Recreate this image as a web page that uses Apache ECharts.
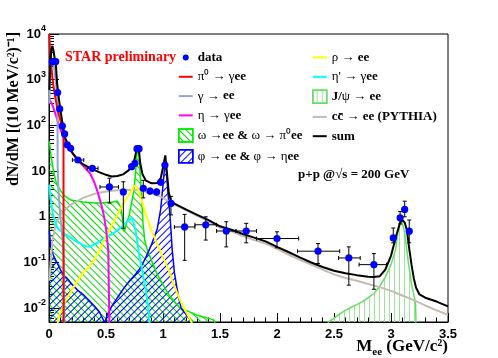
<!DOCTYPE html>
<html>
<head>
<meta charset="utf-8">
<script src="https://cdn.jsdelivr.net/npm/echarts@6/dist/echarts.min.js"></script>
<style>
html, body { margin: 0; padding: 0; background: #fff; }
#main { width: 498px; height: 358px; }
</style>
</head>
<body>
<div id="main"></div>
<script>
// measured points: mass, yield, mass range, yield range
var ptMass   = [0.029, 0.059, 0.076, 0.094, 0.117, 0.137, 0.16, 0.19, 0.254, 0.38, 0.53, 0.652, 0.725, 0.754, 0.772, 0.79, 0.827, 0.886, 0.944, 0.98, 1.017, 1.07, 1.19, 1.375, 1.555, 1.73, 2.0, 2.36, 2.63, 2.85, 3.02, 3.08, 3.12, 3.16];
var ptYield  = [2450, 2500, 525, 230, 97, 65, 37.6, 31.5, 17.5, 11.5, 4.5, 3.5, 12.5, 14.8, 31, 31, 4.2, 3.66, 3.5, 5.7, 13.6, 1.96, 0.60, 0.67, 0.49, 0.49, 0.335, 0.177, 0.126, 0.090, 0.346, 0.95, 1.45, 0.485];
var ptMassLo = [0.025, 0.055, 0.072, 0.09, 0.113, 0.133, 0.155, 0.18, 0.205, 0.335, 0.447, 0.63, 0.715, 0.745, 0.765, 0.783, 0.807, 0.862, 0.92, 0.97, 1.01, 1.05, 1.1, 1.28, 1.47, 1.64, 1.82, 2.18, 2.54, 2.72, 3.01, 3.07, 3.11, 3.15];
var ptMassHi = [0.033, 0.063, 0.08, 0.098, 0.121, 0.141, 0.165, 0.2, 0.305, 0.43, 0.61, 0.675, 0.735, 0.763, 0.779, 0.797, 0.847, 0.91, 0.968, 0.99, 1.024, 1.09, 1.28, 1.47, 1.64, 1.82, 2.19, 2.55, 2.73, 2.96, 3.03, 3.09, 3.13, 3.17];
var ptYieldLo = [2300, 2350, 490, 210, 88, 59, 34, 28.5, 15.5, 10, 2.0, 0.56, 11, 13, 29, 29, 2.6, 3.0, 2.9, 5.0, 12.5, 1.1, 0.112, 0.31, 0.22, 0.27, 0.21, 0.095, 0.032, 0.026, 0.27, 0.7, 1.0, 0.27];
var ptYieldHi = [2600, 2650, 560, 250, 106, 71, 41, 34.5, 19.5, 13, 7.0, 5.85, 14, 16.5, 34, 34, 6.3, 4.4, 4.2, 6.5, 14.8, 2.8, 1.13, 1.0, 0.78, 0.72, 0.47, 0.26, 0.22, 0.157, 0.57, 1.3, 2.2, 0.85];

// cocktail components: [mass, dN/dM]
var pi0Dalitz = [[0.002,10000],[0.01,4000],[0.02,2000],[0.03,1100],[0.04,700],[0.05,480],[0.06,350],[0.07,260],[0.08,200],[0.09,160],[0.1,130],[0.11,100],[0.12,75],[0.127,60],[0.128,0.004]];
var gammaConv = [[0.003,300],[0.01,1500],[0.02,2400],[0.03,2600],[0.04,2200],[0.05,1500],[0.06,900],[0.07,450],[0.074,300],[0.076,12],[0.085,3],[0.1,1],[0.12,0.3],[0.13,0.1],[0.135,0.004]];
var etaDalitz = [[0.003,380],[0.03,280],[0.05,200],[0.07,140],[0.09,95],[0.11,70],[0.13,52],[0.155,40],[0.2,26],[0.25,17.5],[0.3,13],[0.36,9],[0.4,5.5],[0.43,3.3],[0.46,1.8],[0.48,1.1],[0.5,0.55],[0.52,0.19],[0.53,0.004]];
var omegaSum = [[0.003,45],[0.02,20],[0.04,10],[0.06,6],[0.08,4.5],[0.1,3.8],[0.13,3],[0.16,2.6],[0.2,2.3],[0.25,2.2],[0.3,2.1],[0.35,2.05],[0.4,2.0],[0.45,2.0],[0.5,2.05],[0.55,2.1],[0.6,2.2],[0.63,1.6],[0.645,0.9],[0.66,0.47],[0.68,0.74],[0.7,1.0],[0.72,1.8],[0.745,3.8],[0.76,10],[0.775,34],[0.79,24],[0.8,9],[0.81,3.5],[0.825,0.7],[0.84,0.3],[0.86,0.2],[0.9,0.11],[0.95,0.055],[1.0,0.033],[1.05,0.02],[1.1,0.014],[1.15,0.01],[1.2,0.009],[1.25,0.008],[1.3,0.007],[1.35,0.0065],[1.4,0.006],[1.45,0.0055],[1.46,0.004]];
var phiSum = [[0.003,0.5],[0.015,0.22],[0.04,0.14],[0.07,0.1],[0.1,0.07],[0.13,0.052],[0.16,0.045],[0.2,0.034],[0.25,0.025],[0.3,0.02],[0.35,0.015],[0.4,0.011],[0.44,0.0085],[0.47,0.006],[0.49,0.0048],[0.51,0.007],[0.55,0.011],[0.6,0.017],[0.65,0.026],[0.7,0.038],[0.75,0.052],[0.8,0.075],[0.85,0.13],[0.9,0.25],[0.95,0.55],[0.98,1.5],[1.0,5],[1.02,17],[1.03,10],[1.045,3],[1.06,1.2],[1.07,0.5],[1.08,0.2],[1.1,0.06],[1.12,0.03],[1.14,0.016],[1.16,0.01],[1.2,0.0075],[1.24,0.0055],[1.25,0.004]];
var rhoEE = [[0.075,0.004],[0.08,0.006],[0.1,0.008],[0.15,0.015],[0.2,0.025],[0.25,0.04],[0.3,0.06],[0.35,0.08],[0.4,0.12],[0.45,0.2],[0.5,0.38],[0.55,0.65],[0.6,1.1],[0.65,1.9],[0.7,3.0],[0.75,4.8],[0.77,4.5],[0.8,3.0],[0.85,1.1],[0.9,0.5],[0.95,0.25],[1.0,0.13],[1.05,0.07],[1.1,0.03],[1.15,0.015],[1.2,0.0085],[1.25,0.005],[1.26,0.004]];
var etaPrime = [[0.003,5],[0.01,3],[0.03,1.3],[0.05,0.8],[0.08,0.55],[0.12,0.45],[0.18,0.36],[0.25,0.28],[0.3,0.24],[0.35,0.22],[0.4,0.25],[0.45,0.3],[0.5,0.36],[0.55,0.42],[0.6,0.5],[0.65,0.65],[0.7,0.85],[0.73,0.95],[0.76,0.5],[0.79,0.15],[0.82,0.06],[0.85,0.025],[0.87,0.01],[0.885,0.004]];
var jpsiEE = [[2.44,0.004],[2.45,0.005],[2.5,0.006],[2.55,0.0075],[2.6,0.009],[2.65,0.0105],[2.7,0.012],[2.75,0.014],[2.8,0.017],[2.85,0.021],[2.9,0.03],[2.95,0.048],[3.0,0.09],[3.04,0.19],[3.06,0.45],[3.08,0.7],[3.095,0.8],[3.12,0.45],[3.15,0.11],[3.18,0.034],[3.21,0.015],[3.215,0.013],[3.22,0.004]];
var ccbarEE = [[0.003,0.04],[0.01,0.07],[0.03,0.3],[0.06,0.7],[0.1,1.1],[0.15,1.5],[0.2,1.9],[0.3,2.6],[0.4,3.2],[0.5,3.6],[0.6,3.8],[0.7,3.9],[0.8,3.8],[0.9,3.3],[1.0,2.6],[1.1,1.85],[1.2,1.4],[1.3,1.05],[1.4,0.8],[1.5,0.58],[1.6,0.48],[1.7,0.38],[1.8,0.31],[1.9,0.26],[2.0,0.2],[2.1,0.15],[2.2,0.115],[2.3,0.09],[2.4,0.07],[2.5,0.055],[2.6,0.046],[2.7,0.04],[2.8,0.034],[2.9,0.029],[3.0,0.024],[3.1,0.019],[3.2,0.015],[3.3,0.0115],[3.4,0.009],[3.5,0.0072]];
var cocktailSum = [[0.003,600],[0.01,2000],[0.02,4500],[0.03,5500],[0.04,4200],[0.05,2900],[0.06,2200],[0.07,900],[0.08,520],[0.09,330],[0.1,220],[0.11,150],[0.12,105],[0.13,75],[0.14,55],[0.16,42],[0.18,33],[0.2,26],[0.25,18],[0.3,14],[0.35,12],[0.4,10.5],[0.45,9.3],[0.5,8.3],[0.55,7.6],[0.6,7.8],[0.65,8.5],[0.7,10.5],[0.73,13],[0.75,18],[0.765,27],[0.778,34],[0.79,27],[0.8,15],[0.82,8.5],[0.85,6.2],[0.9,5.4],[0.95,5.5],[0.98,7],[1.0,12],[1.02,22],[1.035,9],[1.05,3.5],[1.07,2.2],[1.1,1.95],[1.2,1.45],[1.3,1.1],[1.4,0.85],[1.5,0.62],[1.6,0.52],[1.7,0.42],[1.8,0.35],[1.9,0.29],[2.0,0.22],[2.1,0.17],[2.2,0.13],[2.3,0.1],[2.4,0.08],[2.5,0.066],[2.6,0.058],[2.7,0.053],[2.8,0.049],[2.85,0.048],[2.9,0.05],[2.95,0.07],[3.0,0.14],[3.05,0.42],[3.08,0.75],[3.1,0.85],[3.12,0.75],[3.14,0.5],[3.16,0.2],[3.18,0.09],[3.2,0.045],[3.22,0.028],[3.25,0.02],[3.3,0.017],[3.4,0.014],[3.5,0.011]];

var legendLeft = ['data', 'π⁰ → γee', 'γ → ee', 'η → γee', 'ω →ee & ω → π⁰ee', 'φ → ee & φ → ηee'];
var legendRight = ['ρ → ee', "η' → γee", 'J/ψ → ee', 'cc̄ → ee (PYTHIA)', 'sum'];

var SERIF = '"Liberation Serif", "Times New Roman", serif';
var SANS = '"Liberation Sans", Arial, sans-serif';
var DOT_ICON = 'path://M0,0M14,13M4,6.5a3,3 0 1,0 6,0a3,3 0 1,0 -6,0z';
var LINE_ICON = 'path://M0,0M14,13M0,5.5L14,5.5L14,7.5L0,7.5Z';

var points = ptMass.map(function(m, i) {
	return [m, ptYield[i], ptMassLo[i], ptMassHi[i], ptYieldLo[i], ptYieldHi[i]];
});

// rot > 0 gives "\" lines, rot < 0 gives "/" lines
function hatch(color, rot, gap) {
	return {
		symbol: 'rect', symbolSize: 1, color: color, backgroundColor: 'rgba(0,0,0,0)',
		dashArrayX: [1, 0], dashArrayY: [1, gap], rotation: rot
	};
}

function lineSeries(name, data, color, width, z) {
	return {
		name: name, type: 'line', data: data, symbol: 'none', showSymbol: false,
		itemStyle: { color: color },
		lineStyle: { color: color, width: width },
		z: z, animation: false
	};
}

function areaSeries(name, data, color, decal) {
	var s = lineSeries(name, data, color, 1.5, 1);
	s.areaStyle = { color: 'rgba(255,255,255,0)', opacity: 1, origin: 'start' };
	s.itemStyle.decal = decal;
	return s;
}

//errors bars + dot
function renderPoint(params, api) {
	var y = api.value(1);
	var x = api.value(0);
	var c = api.coord([x, y]);
	var xl = api.coord([api.value(2), y])[0];
	var xh = api.coord([api.value(3), y])[0];
	var yl = api.coord([x, api.value(4)])[1];
	var yh = api.coord([x, api.value(5)])[1];
	var ls = { stroke: '#000', lineWidth: 1 };
	var kids = [
		{ type: 'line', shape: { x1: xl, y1: c[1], x2: xh, y2: c[1] }, style: ls },
		{ type: 'line', shape: { x1: c[0], y1: yl, x2: c[0], y2: yh }, style: ls }
	];
	if(xh - xl > 8) {
		kids.push({ type: 'line', shape: { x1: xl, y1: c[1] - 2, x2: xl, y2: c[1] + 2 }, style: ls });
		kids.push({ type: 'line', shape: { x1: xh, y1: c[1] - 2, x2: xh, y2: c[1] + 2 }, style: ls });
	}
	if(yl - yh > 8) {
		kids.push({ type: 'line', shape: { x1: c[0] - 2, y1: yl, x2: c[0] + 2, y2: yl }, style: ls });
		kids.push({ type: 'line', shape: { x1: c[0] - 2, y1: yh, x2: c[0] + 2, y2: yh }, style: ls });
	}
	kids.push({ type: 'circle', shape: { cx: c[0], cy: c[1], r: 3.6 }, style: { fill: '#0000ff' } });
	return { type: 'group', children: kids };
}

// greek + arrows thin, latin bold (like the ROOT legend)
function legendText(name) {
	var out = '', cur = null, buf = '';
	for(var i = 0; i < name.length; i++) {
		var ch = name[i];
		var k = /[\u0370-\u03ff\u2190-\u21ff\u2070-\u209f']/.test(ch) ? 'g' : 'b';
		if(ch === ' ') k = cur || 'b';
		if(k !== cur && buf) {
			out += '{' + cur + '|' + buf + '}';
			buf = '';
		}
		cur = k;
		buf += ch;
	}
	return out + '{' + cur + '|' + buf + '}';
}

var legendRich = {
	b: { fontFamily: SERIF, fontWeight: 'bold', fontSize: 13, color: '#000' },
	g: { fontFamily: SERIF, fontSize: 13, color: '#000' }
};

function legendItem(name) {
	if(name === 'data') return { name: name, icon: DOT_ICON, itemStyle: { color: '#0000ff' } };
	if(name === 'ω →ee & ω → π⁰ee') return { name: name, icon: 'rect', itemStyle: { color: '#fff', borderColor: '#00ee00', borderWidth: 1.5 } };
	if(name === 'φ → ee & φ → ηee') return { name: name, icon: 'rect', itemStyle: { color: '#fff', borderColor: '#0000ff', borderWidth: 1.5 } };
	if(name === 'J/ψ → ee') return { name: name, icon: 'rect', itemStyle: { color: '#fff', borderColor: '#66dd66', borderWidth: 1.5 } };
	return { name: name, icon: LINE_ICON };
}

function makeLegend(names, left) {
	return {
		data: names.map(legendItem), orient: 'vertical', left: left, top: 46,
		itemWidth: 14, itemHeight: 13, itemGap: 6.3, selectedMode: false,
		formatter: legendText,
		textStyle: { rich: legendRich, lineHeight: 13 }
	};
}

function yLabel(v) {
	var lg = Math.log10(v);
	var e = Math.round(lg);
	if(Math.abs(lg - e) > 1e-6) return '';
	if(e === 0) return '{b|1}';
	if(e === 1) return '{b|10}';
	return '{b|10}{s|' + e + '}';
}

var chart = echarts.init(document.getElementById('main'), null, { renderer: 'canvas' });
var option = {
	backgroundColor: '#fff',
	animation: false,
	grid: { left: 49, right: 50, top: 34, bottom: 36, show: true, borderColor: '#000', borderWidth: 1, backgroundColor: 'rgba(0,0,0,0)' },
	xAxis: {
		type: 'value', min: 0, max: 3.5, interval: 0.5,
		axisLine: { lineStyle: { color: '#000', width: 1 } },
		axisTick: { inside: true, length: 9, lineStyle: { color: '#000' } },
		minorTick: { show: true, splitNumber: 5, length: 4.5, lineStyle: { color: '#000' } },
		splitLine: { show: false },
		axisLabel: { fontFamily: SANS, fontWeight: 'bold', fontSize: 13, color: '#000', margin: 6 }
	},
	yAxis: {
		type: 'log', logBase: 10, min: 0.005, max: 10000,
		axisLine: { lineStyle: { color: '#000', width: 1 } },
		axisTick: { inside: true, length: 10, lineStyle: { color: '#000' } },
		minorTick: { show: true, splitNumber: 9, length: 5, lineStyle: { color: '#000' } },
		splitLine: { show: false },
		axisLabel: {
			margin: 3, formatter: yLabel,
			rich: {
				b: { fontFamily: SANS, fontWeight: 'bold', fontSize: 13, color: '#000', lineHeight: 20 },
				s: { fontFamily: SANS, fontWeight: 'bold', fontSize: 9, color: '#000', verticalAlign: 'top', lineHeight: 10 }
			}
		}
	},
	legend: [makeLegend(legendLeft, 173), makeLegend(legendRight, 307)],
	graphic: [
		{ type: 'text', x: 65, y: 57, z: 10, style: { text: 'STAR preliminary', fill: '#ff0000', font: 'bold 14px ' + SERIF, align: 'left', verticalAlign: 'middle' } },
		{ type: 'text', x: 298, y: 175, z: 10, style: { text: 'p+p @√s = 200 GeV', fill: '#000', font: 'bold 13px ' + SERIF, align: 'left', verticalAlign: 'middle' } },
		{ type: 'text', x: 14, y: 32, rotation: Math.PI / 2, z: 10, style: { text: 'dN/dM [(10 MeV/c²)⁻¹]', fill: '#000', font: 'bold 16px ' + SERIF, align: 'right', verticalAlign: 'middle' } },
		{ type: 'text', x: 448, y: 347, z: 10, style: {
			text: '{m|M}{e|ee}{m| (GeV/c²)}', align: 'right', verticalAlign: 'middle',
			rich: {
				m: { fontFamily: SERIF, fontWeight: 'bold', fontSize: 17, color: '#000', lineHeight: 22 },
				e: { fontFamily: SERIF, fontWeight: 'bold', fontSize: 11, color: '#000', verticalAlign: 'bottom', lineHeight: 12 }
			}
		} }
	],
	series: [
		areaSeries('ω →ee & ω → π⁰ee', omegaSum, '#00ee00', hatch('#00dd00', Math.PI / 4, 3.5)),
		areaSeries('φ → ee & φ → ηee', phiSum, '#0000ff', hatch('#0000ff', -Math.PI / 4, 3.5)),
		areaSeries('J/ψ → ee', jpsiEE, '#66dd66', hatch('#99e699', Math.PI / 2, 3.3)),
		lineSeries('cc̄ → ee (PYTHIA)', ccbarEE, '#c4bcb2', 2, 2),
		lineSeries("η' → γee", etaPrime, '#00ffff', 2, 2),
		lineSeries('ρ → ee', rhoEE, '#ffff00', 2, 2),
		lineSeries('η → γee', etaDalitz, '#ff00ff', 2, 2),
		lineSeries('γ → ee', gammaConv, '#8ea6d8', 2, 2),
		lineSeries('π⁰ → γee', pi0Dalitz, '#ff0000', 2, 2),
		lineSeries('sum', cocktailSum, '#000000', 2, 3),
		{
			name: 'data', type: 'custom', coordinateSystem: 'cartesian2d',
			data: points, encode: { x: 0, y: 1 }, renderItem: renderPoint,
			itemStyle: { color: '#0000ff' }, z: 4, animation: false
		}
	]
};
chart.setOption(option);
</script>
</body>
</html>
